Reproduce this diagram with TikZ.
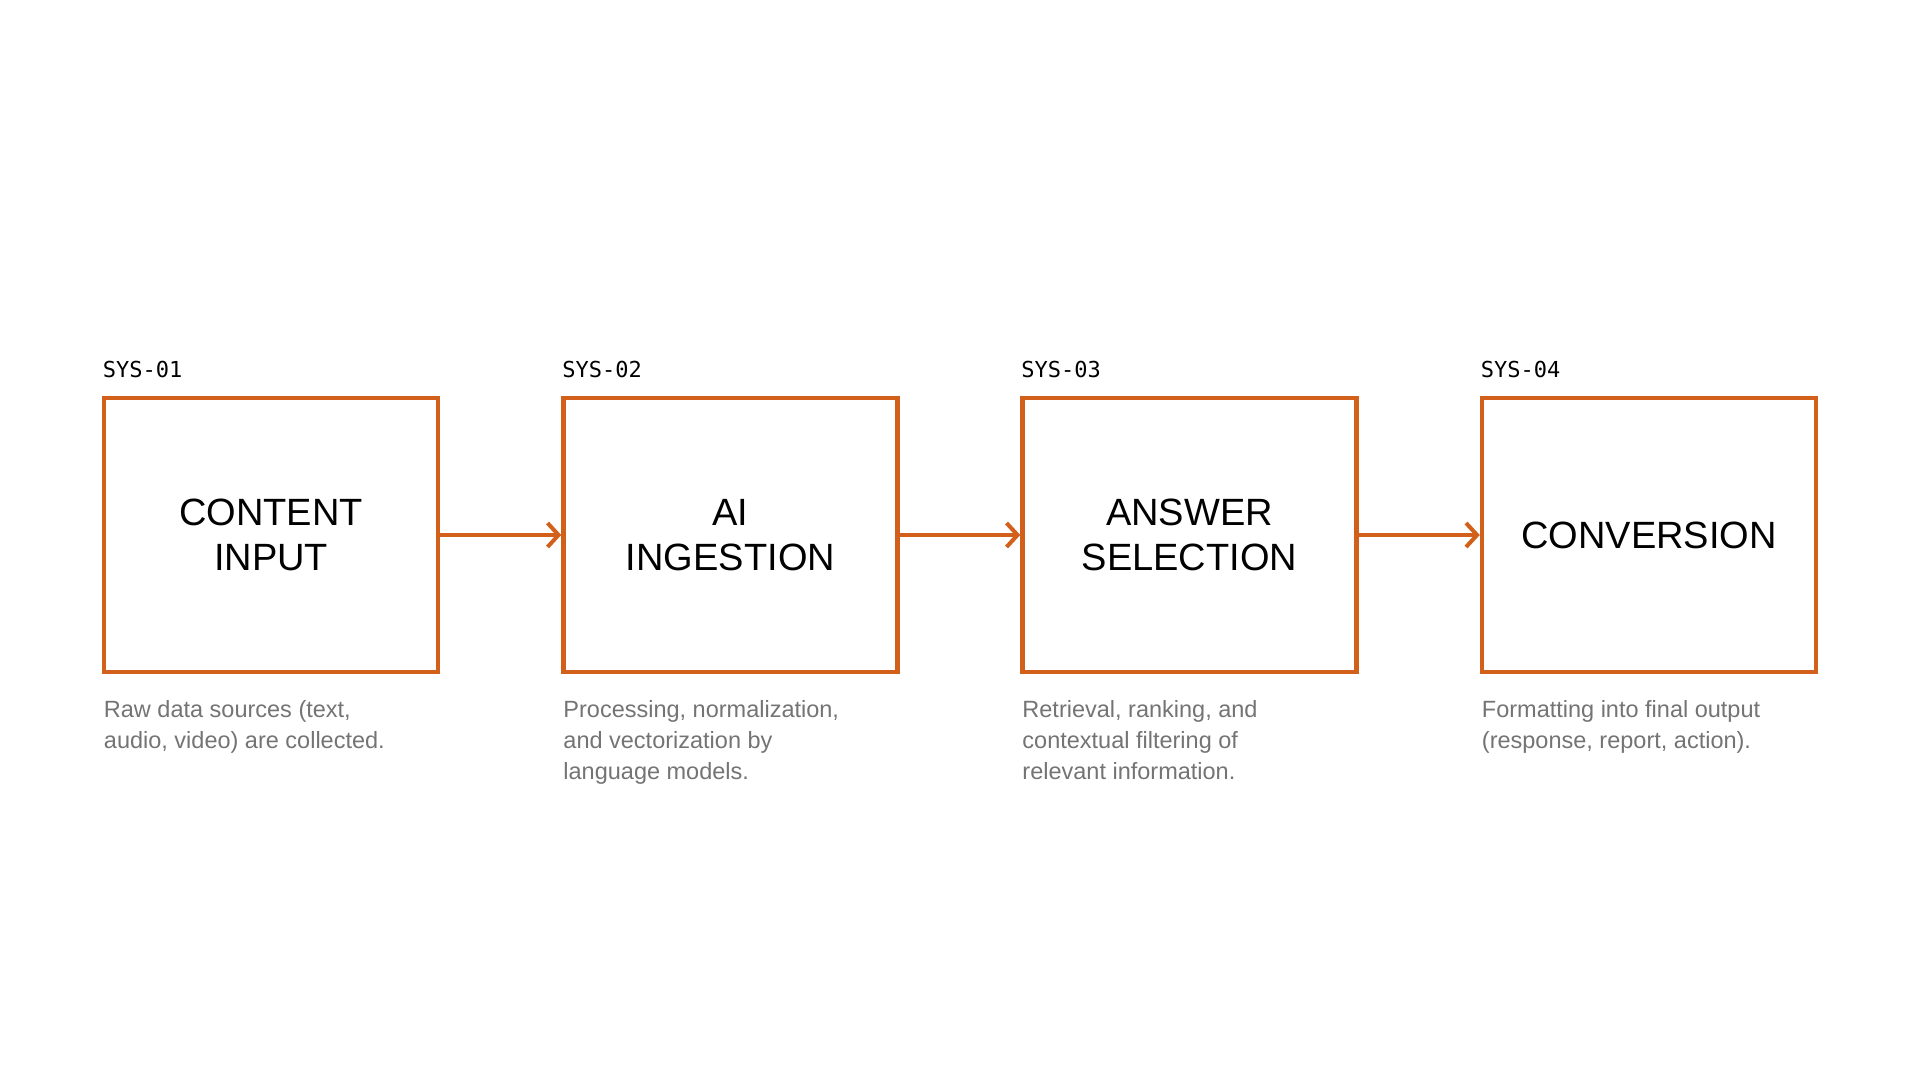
\documentclass[tikz,border=0pt]{standalone}
\usepackage{fontspec}
\setmainfont{Liberation Sans}
\newfontfamily\monof{DejaVu Sans Mono}
\usetikzlibrary{arrows.meta}
\definecolor{orng}{HTML}{D2601A}
\definecolor{gtxt}{HTML}{747474}
\begin{document}
\begin{tikzpicture}[x=1pt,y=1pt,
  stage/.style={draw=orng,line width=4.5pt,minimum width=334pt,minimum height=274pt,inner sep=0pt,align=center,font=\fontsize{38}{45}\selectfont},
  tag/.style={anchor=west,inner sep=0pt,font=\monof\fontsize{22}{26}\selectfont},
  desc/.style={anchor=north west,inner sep=0pt,align=left,text=gtxt,font=\fontsize{23.5}{31}\selectfont},
  flow/.style={draw=orng,line width=4pt,-{Straight Barb[length=11pt,width=24pt,line width=4pt]}}]
\useasboundingbox (0,0) rectangle (1920,-1072);
\fill[white] (0,0) rectangle (1920,-1072);
\foreach \i/\x/\t/\d in {1/271/{CONTENT\\INPUT}/{Raw data sources (text,\\audio, video) are collected.},
  2/730.5/{AI\\INGESTION}/{Processing, normalization,\\and vectorization by\\language models.},
  3/1189.5/{ANSWER\\SELECTION}/{Retrieval, ranking, and\\contextual filtering of\\relevant information.},
  4/1649/{CONVERSION}/{Formatting into final output\\(response, report, action).}}{
  \node[stage] (b\i) at (\x,-535) {\t};
  \node[tag] (s\i) at ([xshift=1pt]b\i.north west |- 0,-369) {SYS-0\i};
  \node[desc] (d\i) at ([xshift=2pt,yshift=-26pt]b\i.south west) {\d};
}
\draw[flow] (b1) -- (b2);
\draw[flow] (b2) -- (b3);
\draw[flow] (b3) -- (b4);
\end{tikzpicture}
\end{document}
